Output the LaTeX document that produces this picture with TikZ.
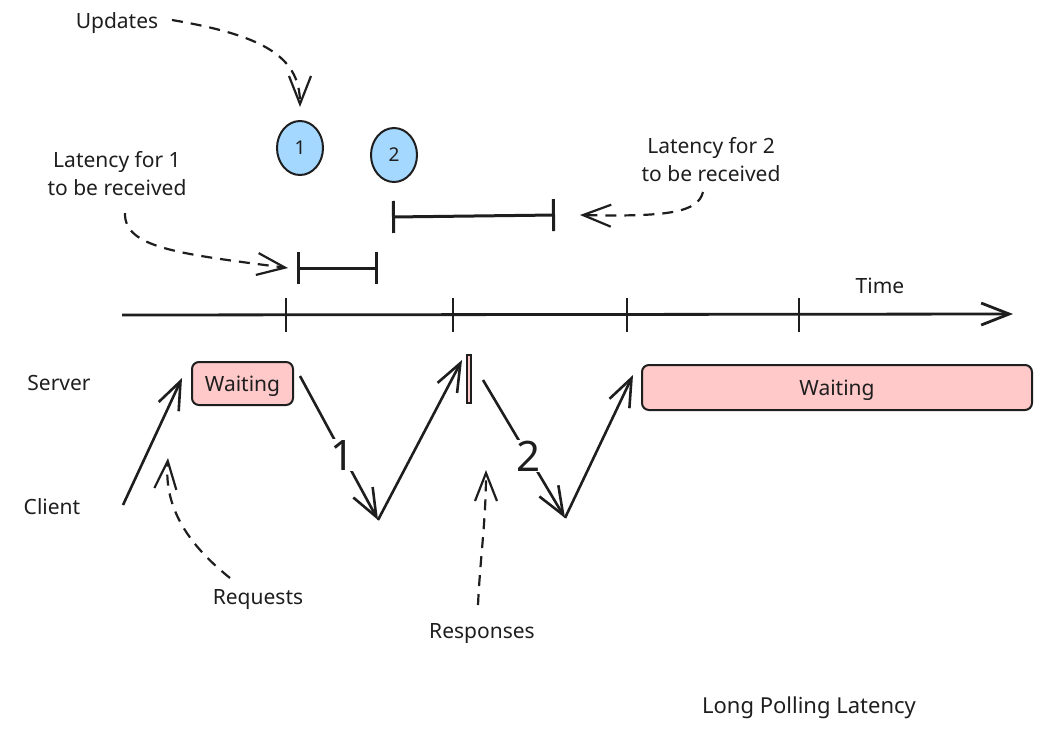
\documentclass[tikz,border=0pt]{standalone}
\usepackage{fontspec}
\setmainfont{Noto Sans}
\usetikzlibrary{shapes, arrows.meta, positioning}
\definecolor{blue90}{HTML}{A5D8FF}
\definecolor{red90}{HTML}{FFC9C9}
\definecolor{ink}{HTML}{1E1E1E}

\begin{document}
\begin{tikzpicture}[x=1pt, y=-1pt, color=ink,
  basic/.style  = {font=\fontsize{21}{28}\selectfont, align=center, inner sep=1pt},
  update/.style = {basic, font=\fontsize{19}{19}\selectfont, draw, ellipse, line width=2pt, fill=blue90, minimum width=46pt, minimum height=54pt, inner sep=0pt},
  wait/.style   = {basic, draw, rounded corners=7pt, line width=2pt, fill=red90, text depth=0pt},
  count/.style  = {font=\fontsize{42}{42}\selectfont, fill=white, inner sep=1pt},
  msg/.style    = {->, line width=2.6pt},
  note/.style   = {->, line width=2.2pt, dash pattern=on 11pt off 8pt},
  span/.style   = {{Bar[width=32pt]}-{Bar[width=32pt]}, line width=3pt},
  >={Straight Barb[length=28pt, width=22pt]}]

\useasboundingbox (0,0) rectangle (1057,729);

% texts and updates
\node[basic] (upd)  at (117,23)  {Updates};
\node[update] (u1)  at (300,148) {1};
\node[update] (u2)  at (394,155) {2};
\node[basic] (lat1) at (117,174) {Latency for 1\\to be received};
\node[basic] (lat2) at (711,160) {Latency for 2\\to be received};
\node[basic] (time) at (880,286) {Time};
\node[basic] (srv)  at (59,383)  {Server};
\node[basic] (cli)  at (52,507)  {Client};
\node[basic] (req)  at (258,600) {Requests};
\node[basic] (resp) at (482,634) {Responses};
\node[basic, font=\fontsize{22}{28}\selectfont] (ttl) at (809,708) {Long Polling Latency};

% server waiting
\node[wait, minimum width=101pt, minimum height=43pt] (w1) at (242.5,383.5) {Waiting};
\node[wait, minimum width=390pt, minimum height=45pt] (w2) at (837,387.5) {Waiting};
\node[draw, fill=red90, line width=1.2pt, minimum width=4pt, minimum height=48pt, inner sep=0pt] (w0) at (469,379) {};

% the time axis
\coordinate (t0) at (122,315);
\coordinate (t1) at (1013,314);
\draw[->, line width=2.8pt] (t0) -- (t1);
\foreach \x in {286,453,627,799}
  \draw[line width=1.8pt] (\x,298) -- (\x,332);

% latency spans
\coordinate (a1) at (297,268);
\coordinate (b1) at (378,268);
\coordinate (a2) at (392,217);
\coordinate (b2) at (555,215);
\draw[span] (a1) -- (b1);
\draw[span] (a2) -- (b2);

% requests and responses
\coordinate (c0) at (123,505);
\coordinate (s0) at (182,378);
\coordinate (s1) at (300,376);
\coordinate (c1) at (378,520);
\coordinate (s2) at (462,360);
\coordinate (s3) at (483,380);
\coordinate (c2) at (565,518);
\coordinate (s4) at (633,375);
\draw[msg] (c0) -- (s0);
\draw[msg] (s1) -- node[count, pos=0.55] (n1) {1} (c1);
\draw[msg] (c1) -- (s2);
\draw[msg] (s3) -- node[count, pos=0.55] (n2) {2} (c2);
\draw[msg] (c2) -- (s4);

% dashed pointers
\coordinate (p1) at (172,20);
\coordinate (p2) at (125,213);
\coordinate (p3) at (703,192);
\coordinate (p4) at (230,578);
\coordinate (p5) at (478,605);
\draw[note] (p1) .. controls (260,35) and (300,55) .. ([yshift=13pt]u1.north);
\draw[note] (p2) .. controls (124,248) and (180,254) .. ([xshift=-9pt]a1);
\draw[note] (p3) .. controls (698,212) and (670,217) .. ([xshift=25pt]b2);
\draw[note] (p4) .. controls (185,542) and (164,505) .. (168,458);
\draw[note] (p5) .. controls (480,560) and (486,520) .. (486,470);

\end{tikzpicture}
\end{document}
